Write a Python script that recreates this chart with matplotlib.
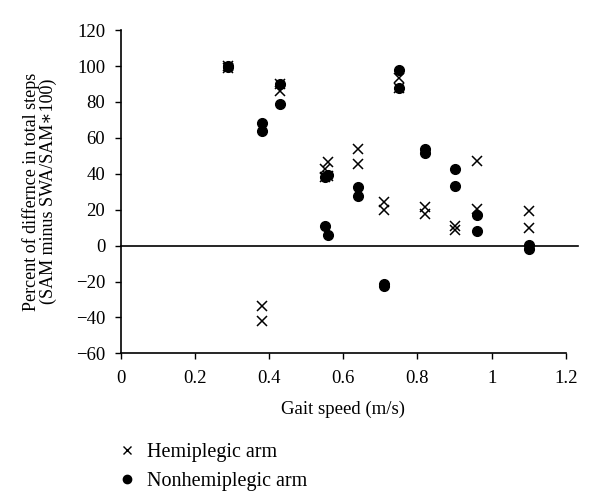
import matplotlib
matplotlib.use("Agg")
import matplotlib.pyplot as plt
from matplotlib.lines import Line2D

plt.rcParams['font.family'] = ['Liberation Serif', 'DejaVu Serif']

speeds = [0.29, 0.38, 0.43, 0.55, 0.56, 0.64, 0.71, 0.75, 0.82, 0.90, 0.96, 1.10]
hemi_a = [99, -33.5, 86, 42.5, 46.4, 53.7, 24.5, 93.6, 21.3, 10.8, 47.1, 19.1]
hemi_b = [100, -42, 90, 38, 39, 45.5, 20, 87.5, 17.8, 8.9, 20.2, 10.0]
non_a = [100, 68.3, 90.2, 38, 39.2, 32.6, -21.2, 97.7, 54, 42.5, 16.9, 0.2]
non_b = [99.5, 64, 78.7, 10.9, 5.7, 27.6, -22.7, 88, 51.6, 33.4, 8.0, -1.7]

xticks = [0, 0.2, 0.4, 0.6, 0.8, 1, 1.2]
xticklabels = ['0', '0.2', '0.4', '0.6', '0.8', '1', '1.2']
yticks = [-60, -40, -20, 0, 20, 40, 60, 80, 100, 120]

fig = plt.figure(figsize=(6, 4.98), dpi=100)
ax = fig.add_axes([0.201, 0.2905, 0.742, 0.649])

ax.plot(speeds + speeds, non_a + non_b, 'o', color='black', markersize=7, linestyle='none', zorder=3)
ax.plot(speeds + speeds, hemi_a + hemi_b, 'x', color='black', markersize=6.5, markeredgewidth=1.1,
        linestyle='none', zorder=4)

ax.plot([0, 1.232], [0, 0], color='black', linewidth=1.2, clip_on=False, zorder=2)

ax.set_xlim(0, 1.2)
ax.set_ylim(-60, 120)
ax.set_xticks(xticks)
ax.set_xticklabels(xticklabels)
ax.set_yticks(yticks)
ax.set_yticklabels(['\u2212' + str(-v) if v < 0 else str(v) for v in yticks])
for s in ['top', 'right']:
    ax.spines[s].set_visible(False)
for s in ['left', 'bottom']:
    ax.spines[s].set_linewidth(1.2)
ax.tick_params(axis='both', direction='out', length=4, width=1, labelsize=13.5)
ax.tick_params(axis='y', pad=7)
ax.tick_params(axis='x', pad=8)

ax.set_xlabel('Gait speed (m/s)', fontsize=13.5, labelpad=10)
ax.set_ylabel('Percent of differnce in total steps\n(SAM minus SWA/SAM\u2217100)', fontsize=13,
              labelpad=14, linespacing=0.95)

handles = [Line2D([], [], marker='x', color='black', linestyle='none', markersize=6, markeredgewidth=1),
           Line2D([], [], marker='o', color='black', linestyle='none', markersize=6)]
fig.legend(handles, ['Hemiplegic arm', 'Nonhemiplegic arm'], loc='center left',
           bbox_to_anchor=(0.195, 0.063), frameon=False, fontsize=14.5,
           handletextpad=0.5, handlelength=1.0, labelspacing=0.5, borderaxespad=0, borderpad=0)

fig.savefig('out.png', dpi=100)
